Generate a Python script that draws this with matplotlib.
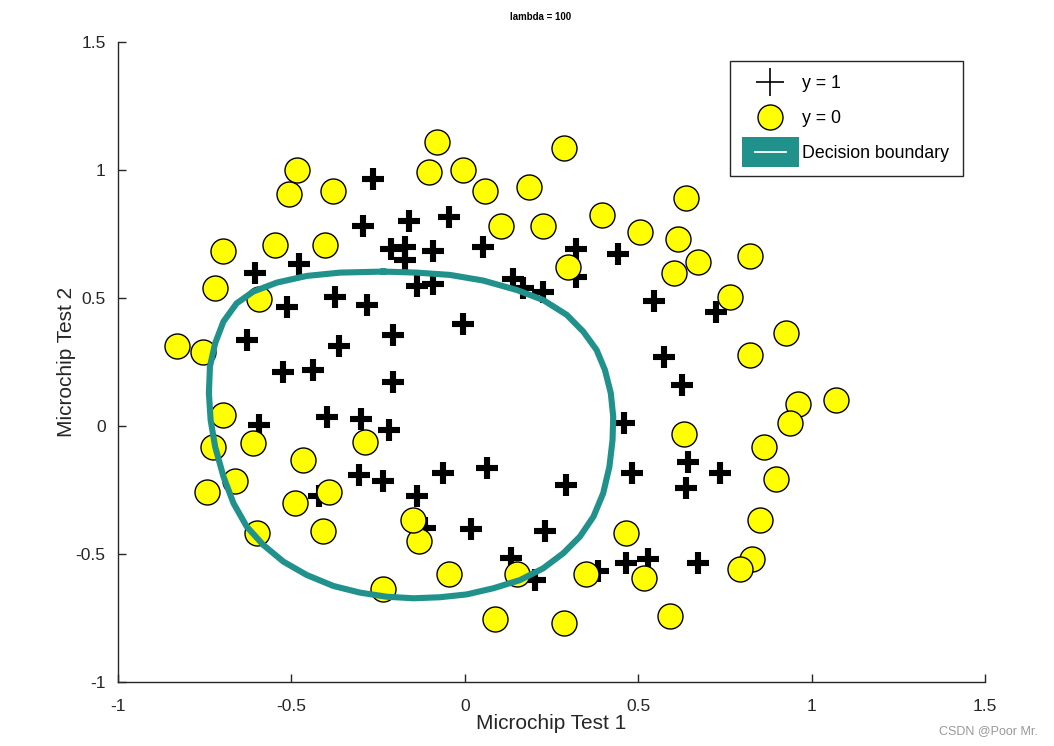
import matplotlib
matplotlib.use("Agg")
import matplotlib.pyplot as plt
from matplotlib.lines import Line2D
from matplotlib.patches import Rectangle

plt.rcParams['font.family'] = ['Liberation Sans', 'DejaVu Sans']

# y = 1 (accepted)
pos_x = [0.051267, -0.092742, -0.21371, -0.375, -0.51325, -0.52477, -0.39804, -0.30588,
         0.016705, 0.13191, 0.38537, 0.52938, 0.63882, 0.73675, 0.54666, 0.322, 0.16647,
         -0.046659, -0.17339, -0.47869, -0.60541, -0.62846, -0.59389, -0.42108, -0.11578,
         0.20104, 0.46601, 0.67339, -0.13882, -0.29435, -0.26555, -0.16187, -0.17339,
         -0.28283, -0.36348, -0.30012, -0.23675, -0.06394, 0.062788, 0.22984, 0.2932,
         0.48329, 0.64459, 0.46025, 0.6273, 0.57546, 0.72523, 0.22408, 0.44297, 0.322,
         0.13767, -0.0063364, -0.092742, -0.20795, -0.20795, -0.43836, -0.21947, -0.13882]
pos_y = [0.69956, 0.68494, 0.69225, 0.50219, 0.46564, 0.2098, 0.034357, -0.19225,
         -0.40424, -0.51389, -0.56506, -0.5212, -0.24342, -0.18494, 0.48757, 0.5826, 0.53874,
         0.81652, 0.69956, 0.63377, 0.59722, 0.33406, 0.005117, -0.27266, -0.39693,
         -0.60161, -0.53582, -0.53582, 0.54605, 0.77997, 0.96272, 0.8019, 0.64839,
         0.47295, 0.31213, 0.027047, -0.21418, -0.18494, -0.16301, -0.41155, -0.2288,
         -0.18494, -0.14108, 0.012427, 0.15863, 0.26827, 0.44371, 0.52412, 0.67032, 0.69225,
         0.57529, 0.39985, 0.55336, 0.35599, 0.17325, 0.21711, -0.016813, -0.27266]

# y = 0 (rejected)
neg_x = [0.18376, 0.22408, 0.29896, 0.50634, 0.61578, 0.60426, 0.76555, 0.92684, 0.82316,
         0.96141, 0.93836, 0.86348, 0.89804, 0.85196, 0.82892, 0.79435, 0.59274, 0.51786,
         0.46601, 0.35081, 0.28744, 0.085829, 0.14919, -0.13306, -0.40956, -0.39228,
         -0.74366, -0.69758, -0.75518, -0.69758, -0.4038, -0.38076, -0.50749, -0.54781,
         0.10311, 0.057028, -0.10426, -0.081221, 0.28744, 0.39689, 0.63882, 0.82316,
         0.67339, 1.0709, -0.046659, -0.23675, -0.15035, -0.49021, -0.46717, -0.28859,
         -0.61118, -0.66302, -0.59965, -0.72638, -0.83007, -0.72062, -0.59389, -0.48445,
         -0.0063364, 0.63265]
neg_y = [0.93348, 0.77997, 0.61915, 0.75804, 0.7288, 0.59722, 0.50219, 0.3633, 0.27558,
         0.085526, 0.012427, -0.082602, -0.20687, -0.36769, -0.5212, -0.55775, -0.7405,
         -0.5943, -0.41886, -0.57968, -0.76974, -0.75512, -0.57968, -0.4481, -0.41155,
         -0.25804, -0.25804, 0.041667, 0.2902, 0.68494, 0.70687, 0.91886, 0.90424, 0.70687,
         0.77997, 0.91886, 0.99196, 1.1089, 1.087, 0.82383, 0.88962, 0.66301, 0.64108,
         0.10015, -0.57968, -0.63816, -0.36769, -0.3019, -0.13377, -0.0621, -0.067982,
         -0.21418, -0.41886, -0.082602, 0.31213, 0.53874, 0.49488, 0.99927, 0.99927,
         -0.030612]

# decision boundary
bnd_x = [-0.235, -0.139, -0.043, 0.053, 0.150, 0.226, 0.294, 0.342, 0.380, 0.404, 0.421,
         0.428, 0.426, 0.417, 0.399, 0.371, 0.332, 0.284, 0.226, 0.159, 0.082, 0.005,
         -0.072, -0.148, -0.225, -0.302, -0.379, -0.456, -0.523, -0.581, -0.629, -0.667,
         -0.696, -0.720, -0.733, -0.738, -0.735, -0.720, -0.696, -0.658, -0.610, -0.542,
         -0.456, -0.360, -0.235]
bnd_y = [0.603, 0.599, 0.590, 0.568, 0.531, 0.492, 0.434, 0.368, 0.297, 0.219, 0.128,
         0.036, -0.055, -0.159, -0.263, -0.354, -0.432, -0.497, -0.556, -0.602, -0.634,
         -0.658, -0.669, -0.673, -0.667, -0.651, -0.625, -0.582, -0.530, -0.465, -0.393,
         -0.302, -0.198, -0.081, 0.023, 0.128, 0.232, 0.323, 0.408, 0.479, 0.525, 0.560,
         0.586, 0.599, 0.603]

teal = '#21918c'


class BoundaryHandler:
    def legend_artist(self, legend, orig_handle, fontsize, handlebox):
        x0, y0 = handlebox.xdescent, handlebox.ydescent
        w, h = handlebox.width, handlebox.height
        rect = Rectangle((x0 - 2, y0 - 0.7 * h), w + 4, 2.4 * h, facecolor=teal,
                         edgecolor='none', transform=handlebox.get_transform())
        ln = Line2D([x0 + 0.2 * w, x0 + 0.8 * w], [y0 + h / 2, y0 + h / 2], color='white',
                    linewidth=1.3, transform=handlebox.get_transform())
        handlebox.add_artist(rect)
        handlebox.add_artist(ln)
        return rect


fig = plt.figure(figsize=(10.54, 7.46), dpi=100)
ax = fig.add_axes([0.112, 0.0858, 0.8225, 0.858])

ax.plot(pos_x, pos_y, linestyle='none', marker='+', markersize=16, markeredgewidth=4.4,
        color='black', zorder=3)
ax.plot(neg_x, neg_y, linestyle='none', marker='o', markersize=18, markerfacecolor='yellow',
        markeredgecolor='black', markeredgewidth=1.0, zorder=3)
bline, = ax.plot(bnd_x, bnd_y, color=teal, linewidth=4.4, solid_joinstyle='round', zorder=4)

ax.set_xlim(-1, 1.5)
ax.set_ylim(-1, 1.5)
ax.set_xticks([-1, -0.5, 0, 0.5, 1, 1.5])
ax.set_xticklabels(['-1', '-0.5', '0', '0.5', '1', '1.5'])
ax.set_yticks([-1, -0.5, 0, 0.5, 1, 1.5])
ax.set_yticklabels(['-1', '-0.5', '0', '0.5', '1', '1.5'])
for s in ['top', 'right']:
    ax.spines[s].set_visible(False)
for s in ['left', 'bottom']:
    ax.spines[s].set_color('#262626')
    ax.spines[s].set_linewidth(1.0)
ax.tick_params(direction='in', length=6, width=1.0, colors='#262626', labelsize=12.5,
               labelcolor='#262626')
ax.tick_params(axis='x', pad=12)
ax.tick_params(axis='y', pad=9)

ax.set_xlabel('Microchip Test 1', fontsize=15, color='#262626', labelpad=0)
ax.set_ylabel('Microchip Test 2', fontsize=15, color='#262626', labelpad=0)
fig.text(0.513, 0.977, 'lambda = 100', fontsize=7, fontweight='bold', ha='center',
         va='center')

h1 = Line2D([], [], linestyle='none', marker='+', markersize=20, markeredgewidth=1.2,
            color='black')
h2 = Line2D([], [], linestyle='none', marker='o', markersize=18, markerfacecolor='yellow',
            markeredgecolor='black', markeredgewidth=1.0)
leg = ax.legend([h1, h2, bline], ['y = 1', 'y = 0', 'Decision boundary'],
                handler_map={bline: BoundaryHandler()},
                loc='upper right', bbox_to_anchor=(0.975, 0.97), fontsize=12.8,
                frameon=True, fancybox=False, edgecolor='#262626', framealpha=1,
                handlelength=2.9, handletextpad=0.35, labelspacing=1.0,
                borderpad=0.8, borderaxespad=0)
leg.get_frame().set_linewidth(1.0)

fig.text(0.985, 0.012, 'CSDN @Poor Mr.', ha='right', va='bottom', fontsize=9,
         color='#999999')

fig.savefig('out.png', dpi=100)
